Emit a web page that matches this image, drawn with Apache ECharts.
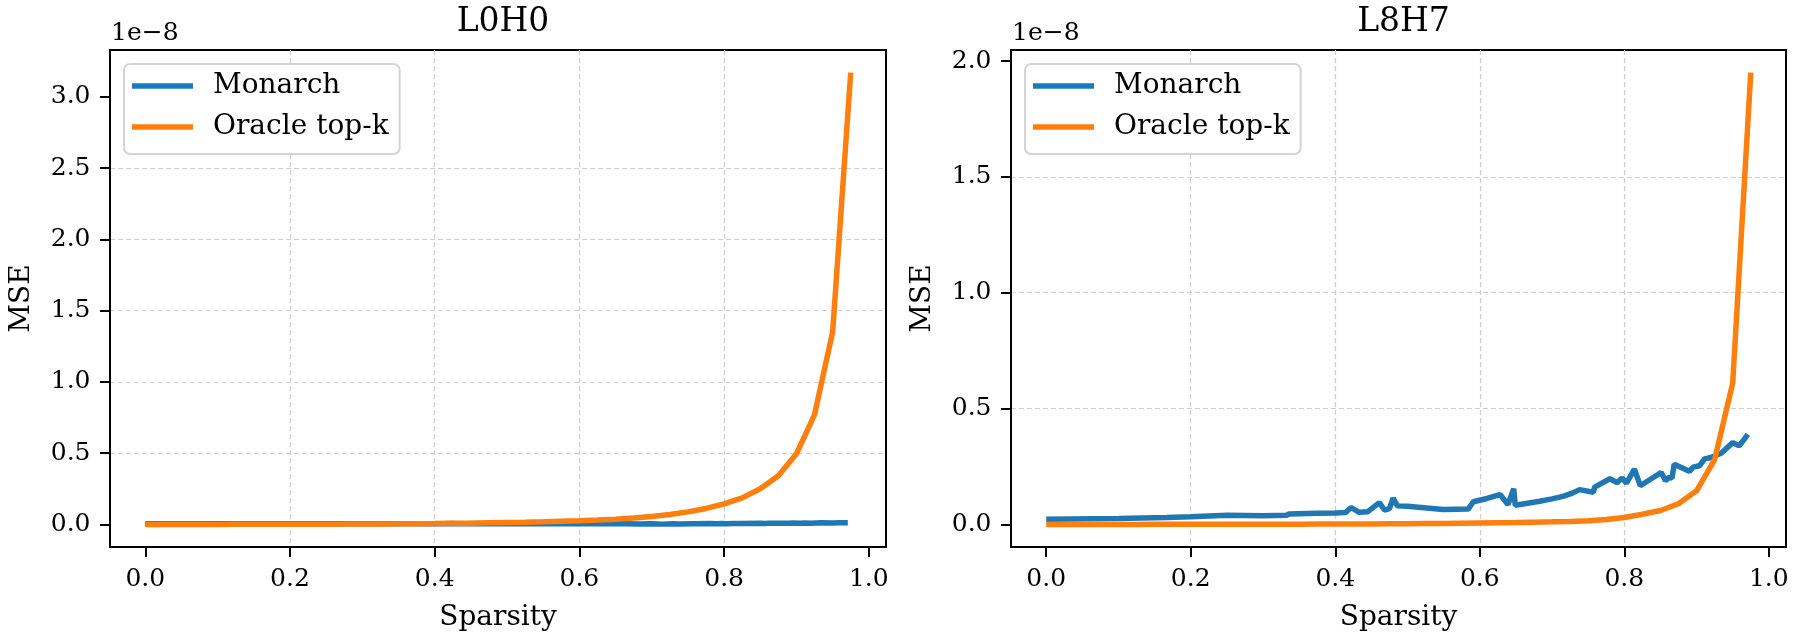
<!DOCTYPE html>
<html><head><meta charset="utf-8">
<script src="https://cdn.jsdelivr.net/npm/echarts@6/dist/echarts.min.js"></script>
<style>html,body{margin:0;padding:0;background:#fff}#c{width:1800px;height:640px}</style>
</head><body><div id="c"></div>
<script>
// ---------------- data (MSE in units of 1e-8) ----------------
const panelTitles = ['L0H0', 'L8H7'];
const seriesNames = ['Monarch', 'Oracle top-k'];
const xTicks = [0.0, 0.2, 0.4, 0.6, 0.8, 1.0];
const yTicksL0H0 = [0.0, 0.5, 1.0, 1.5, 2.0, 2.5, 3.0];
const yTicksL8H7 = [0.0, 0.5, 1.0, 1.5, 2.0];
const offsetText = '1e\u22128';

const sparsityOracle = [0, 0.025, 0.05, 0.075, 0.1, 0.125, 0.15, 0.175, 0.2, 0.225,
  0.25, 0.275, 0.3, 0.325, 0.35, 0.375, 0.4, 0.425, 0.45, 0.475,
  0.5, 0.525, 0.55, 0.575, 0.6, 0.625, 0.65, 0.675, 0.7, 0.725,
  0.75, 0.775, 0.8, 0.825, 0.85, 0.875, 0.9, 0.925, 0.95, 0.975];
const oracleL0H0 = [0, 0.00002, 0.00005, 0.0001, 0.0002, 0.0003, 0.0004, 0.0006, 0.0009, 0.0012,
  0.0016, 0.0021, 0.0027, 0.0033, 0.004, 0.005, 0.006, 0.0075, 0.009, 0.011,
  0.013, 0.015, 0.018, 0.022, 0.026, 0.031, 0.037, 0.045, 0.056, 0.07,
  0.088, 0.112, 0.144, 0.186, 0.25, 0.342, 0.495, 0.77, 1.35, 3.17];
const oracleL8H7 = [0, 0.00001, 0.00002, 0.00004, 0.00006, 0.0001, 0.00015, 0.0002, 0.0003, 0.0004,
  0.0005, 0.0006, 0.0008, 0.001, 0.0012, 0.0014, 0.0016, 0.0018, 0.002, 0.0025,
  0.003, 0.0035, 0.004, 0.005, 0.006, 0.007, 0.008, 0.0095, 0.011, 0.013,
  0.016, 0.021, 0.03, 0.044, 0.06, 0.089, 0.145, 0.28, 0.61, 1.95];

const sparsityMonarch = [0, 0.1, 0.167, 0.2, 0.25, 0.3, 0.333, 0.336, 0.375, 0.4,
  0.414, 0.422, 0.433, 0.445, 0.461, 0.468, 0.475, 0.48, 0.486, 0.5,
  0.549, 0.584, 0.591, 0.61, 0.628, 0.639, 0.647, 0.649, 0.683, 0.7,
  0.715, 0.729, 0.738, 0.757, 0.759, 0.78, 0.79, 0.797, 0.803, 0.814,
  0.822, 0.851, 0.857, 0.862, 0.866, 0.869, 0.89, 0.895, 0.904, 0.911,
  0.92, 0.934, 0.95, 0.959, 0.971];
const monarchL0H0 = [0.004, 0.004, 0.004, 0.004, 0.005, 0.004, 0.005, 0.005, 0.004, 0.005,
  0.004, 0.006, 0.004, 0.005, 0.006, 0.004, 0.005, 0.006, 0.004, 0.005,
  0.004, 0.005, 0.006, 0.005, 0.006, 0.004, 0.006, 0.004, 0.003, 0.004,
  0.002, 0.004, 0.003, 0.005, 0.004, 0.006, 0.005, 0.007, 0.005, 0.007,
  0.006, 0.008, 0.007, 0.009, 0.008, 0.009, 0.008, 0.01, 0.009, 0.01,
  0.009, 0.011, 0.01, 0.011, 0.012];
const monarchL8H7 = [0.022, 0.026, 0.03, 0.033, 0.039, 0.037, 0.04, 0.045, 0.048, 0.049,
  0.051, 0.073, 0.052, 0.055, 0.094, 0.062, 0.068, 0.113, 0.08, 0.078,
  0.064, 0.066, 0.098, 0.112, 0.129, 0.086, 0.154, 0.083, 0.1, 0.11,
  0.121, 0.136, 0.15, 0.139, 0.161, 0.197, 0.18, 0.2, 0.178, 0.239,
  0.167, 0.224, 0.189, 0.203, 0.2, 0.26, 0.229, 0.247, 0.253, 0.283,
  0.289, 0.307, 0.353, 0.339, 0.389];

// ---------------- chart ----------------
const FONT = 'DejaVu Serif';
const BLUE = '#1f77b4', ORANGE = '#ff7f0e';
const pairs = (xs, ys) => xs.map((x, i) => [x, ys[i]]);
function padExtent(vals) {
  const lo = Math.min(...vals), hi = Math.max(...vals), m = (hi - lo) * 0.05;
  return [lo - m, hi + m];
}
const panels = [
  {title: panelTitles[0], yTicks: yTicksL0H0, mon: monarchL0H0, ora: oracleL0H0},
  {title: panelTitles[1], yTicks: yTicksL8H7, mon: monarchL8H7, ora: oracleL8H7}
];
const gridBoxes = [{left: 110, width: 776}, {left: 1011, width: 775}];
const xExt = padExtent(sparsityOracle.concat(sparsityMonarch));

const option = {
  animation: false,
  backgroundColor: '#fff',
  title: [], grid: [], xAxis: [], yAxis: [], series: [], legend: [], graphic: []
};
panels.forEach((p, k) => {
  const g = gridBoxes[k];
  const yExt = padExtent(p.mon.concat(p.ora));
  option.grid.push({left: g.left, width: g.width, top: 50, bottom: 93, show: true,
    borderColor: '#000', borderWidth: 2, backgroundColor: 'transparent'});
  option.title.push({text: p.title, left: g.left + g.width / 2, top: 1, textAlign: 'center',
    textStyle: {fontFamily: FONT, fontSize: 33, fontWeight: 'normal', color: '#000'}});
  option.xAxis.push({type: 'value', gridIndex: k, min: xExt[0], max: xExt[1], splitNumber: 5,
    axisLine: {show: true, onZero: false, lineStyle: {color: '#000', width: 2}},
    axisTick: {show: true, customValues: xTicks, length: 10, lineStyle: {color: '#000', width: 2}},
    axisLabel: {customValues: xTicks, formatter: v => v.toFixed(1), fontFamily: FONT, fontSize: 25, color: '#000', margin: 20},
    splitLine: {show: true, showMinLine: false, showMaxLine: false, lineStyle: {color: '#d0d0d0', width: 1.2, type: [5, 3]}},
    name: 'Sparsity', nameLocation: 'middle', nameGap: 57,
    nameTextStyle: {fontFamily: FONT, fontSize: 28, color: '#000'}});
  option.yAxis.push({type: 'value', gridIndex: k, min: yExt[0], max: yExt[1], splitNumber: 5,
    axisLine: {show: true, onZero: false, lineStyle: {color: '#000', width: 2}},
    axisTick: {show: true, customValues: p.yTicks, length: 10, lineStyle: {color: '#000', width: 2}},
    axisLabel: {customValues: p.yTicks, formatter: v => v.toFixed(1), fontFamily: FONT, fontSize: 25, color: '#000', margin: 19.5},
    splitLine: {show: true, showMinLine: false, showMaxLine: false, lineStyle: {color: '#d0d0d0', width: 1.2, type: [5, 3]}},
    name: 'MSE', nameLocation: 'middle', nameGap: 74, nameRotate: 90,
    nameTextStyle: {fontFamily: FONT, fontSize: 28, color: '#000'}});
  option.series.push({name: seriesNames[0], type: 'line', xAxisIndex: k, yAxisIndex: k,
    data: pairs(sparsityMonarch, p.mon), showSymbol: false, symbol: 'none',
    lineStyle: {color: BLUE, width: 5.5}, itemStyle: {color: BLUE}, z: 2});
  option.series.push({name: seriesNames[1], type: 'line', xAxisIndex: k, yAxisIndex: k,
    data: pairs(sparsityOracle, p.ora), showSymbol: false, symbol: 'none',
    lineStyle: {color: ORANGE, width: 5.5}, itemStyle: {color: ORANGE}, z: 3});
  option.legend.push({data: seriesNames, left: g.left + 14, top: 64, orient: 'vertical',
    icon: 'rect', itemWidth: 61, itemHeight: 5.5, itemGap: 11, selectedMode: false,
    padding: [7, 11, 12, 8], backgroundColor: '#fff', borderColor: '#d4d4d4', borderWidth: 2, borderRadius: 6,
    textStyle: {fontFamily: FONT, fontSize: 28, color: '#000', lineHeight: 30, padding: [0, 0, 0, 15]}});
  option.graphic.push({type: 'text', left: g.left + 1, top: 21,
    style: {text: offsetText, fontFamily: FONT, fontSize: 25, fill: '#000'}});
});
const chart = echarts.init(document.getElementById('c'), null, {renderer: 'canvas'});
chart.setOption(option);
</script></body></html>
